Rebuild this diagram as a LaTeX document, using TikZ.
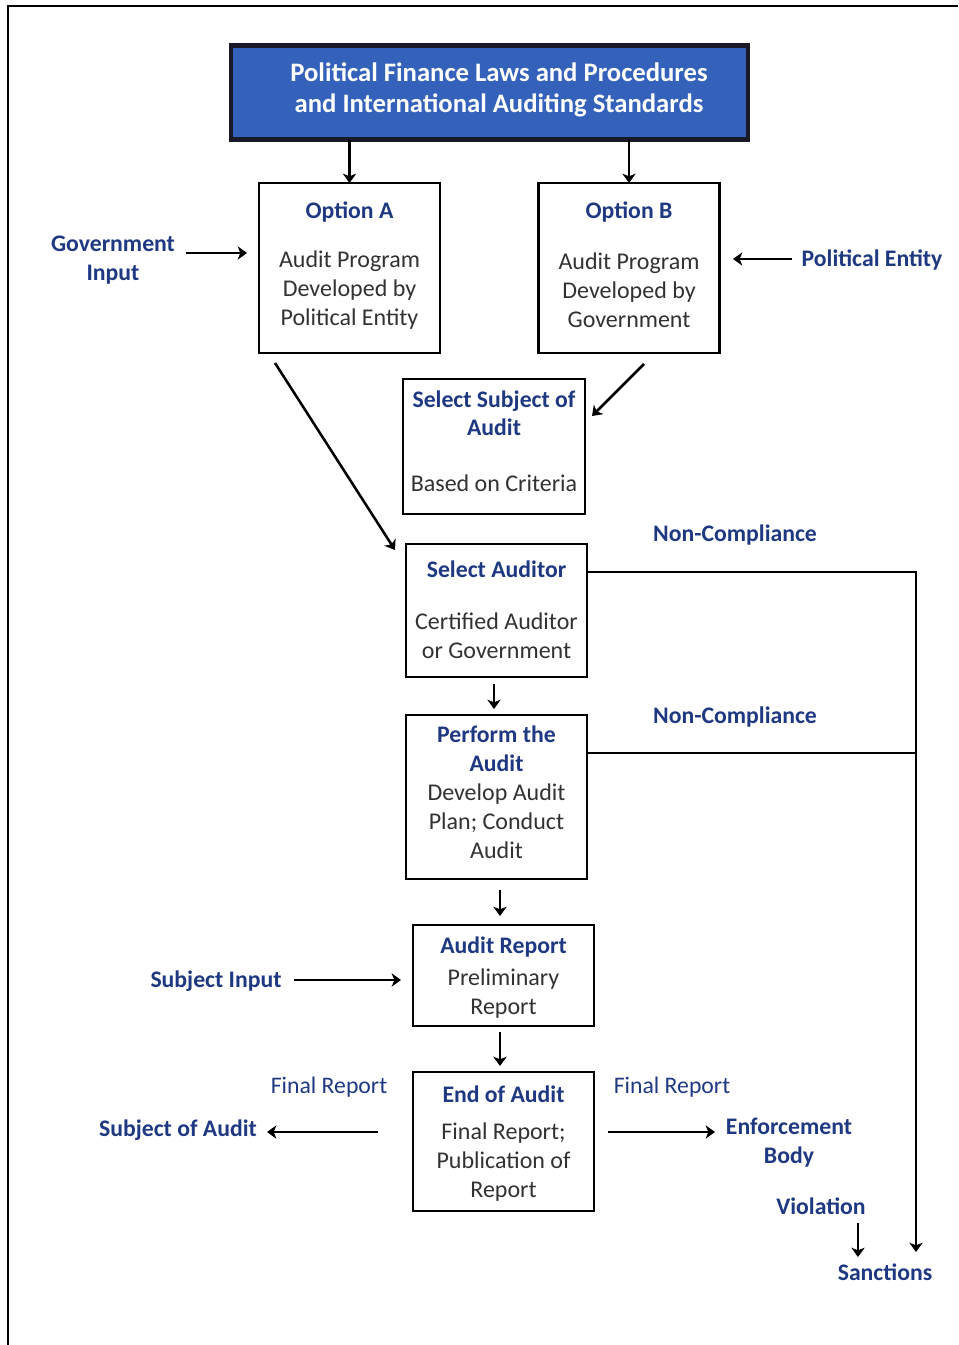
\documentclass[tikz,border=0pt]{standalone}
\usepackage{fontspec}
\setmainfont{Carlito}
\usetikzlibrary{arrows.meta}
\definecolor{navy}{RGB}{31,56,130}
\definecolor{bodygray}{RGB}{50,50,50}
\definecolor{hdrblue}{RGB}{52,98,186}
\definecolor{hdrline}{RGB}{25,25,40}
\tikzset{
  every node/.style={inner sep=0pt, outer sep=0pt},
  box/.style={draw=black, line width=2.2pt, fill=white},
  hdrbox/.style={draw=hdrline, line width=3.6pt, fill=hdrblue},
  ttl/.style={anchor=base, text=navy, font=\fontsize{17.8}{21}\selectfont\bfseries},
  bodytxt/.style={anchor=base, text=bodygray, font=\fontsize{18}{21}\selectfont},
  lab/.style={anchor=base, text=navy, font=\fontsize{17.8}{21}\selectfont\bfseries},
  labreg/.style={anchor=base, text=navy, font=\fontsize{17.8}{21}\selectfont},
  hdrtxt/.style={anchor=base, text=white, font=\fontsize{20}{24}\selectfont\bfseries},
  arr/.style={line width=1.9pt, -{Stealth[length=7pt,width=10pt,inset=2pt]}},
  conn/.style={line width=1.9pt},
  frame/.style={line width=2pt}
}
\begin{document}
\begin{tikzpicture}[x=0.75pt,y=-0.75pt]
\useasboundingbox (0,0) rectangle (958,1345);
\draw[frame] (958,6) -- (8,6) -- (8,1345);

% header
\node[hdrbox, minimum width=517*0.75pt, minimum height=94*0.75pt] (hdr) at (489.5,92.5) {};
\node[hdrtxt] (hdrA) at (499,82) {Political Finance Laws and Procedures};
\node[hdrtxt] (hdrB) at (499,113) {and International Auditing Standards};

% option A
\node[box, minimum width=181*0.75pt, minimum height=170*0.75pt] (optA) at (349.5,268) {};
\node[ttl] (optAt) at (349.5,218) {Option A};
\node[bodytxt] (optA1) at (349.5,267) {Audit Program};
\node[bodytxt] (optA2) at (349.5,296) {Developed by};
\node[bodytxt] (optA3) at (349.5,325) {Political Entity};

% option B
\node[box, minimum width=181*0.75pt, minimum height=170*0.75pt] (optB) at (629,268) {};
\node[ttl] (optBt) at (629,218) {Option B};
\node[bodytxt] (optB1) at (629,269) {Audit Program};
\node[bodytxt] (optB2) at (629,298) {Developed by};
\node[bodytxt] (optB3) at (629,327) {Government};

% side labels top
\node[lab] (gov1) at (113,251) {Government};
\node[lab] (gov2) at (113,280) {Input};
\node[lab] (pol) at (872,266) {Political Entity};

% select subject
\node[box, minimum width=182*0.75pt, minimum height=135*0.75pt] (sel) at (494,446.5) {};
\node[ttl] (selt1) at (494,407) {Select Subject of};
\node[ttl] (selt2) at (494,435) {Audit};
\node[bodytxt] (sel1) at (494,491) {Based on Criteria};

% select auditor
\node[box, minimum width=181*0.75pt, minimum height=133*0.75pt] (aud) at (496.5,610.5) {};
\node[ttl] (audt) at (496.5,577) {Select Auditor};
\node[bodytxt] (aud1) at (496.5,629) {Certified Auditor};
\node[bodytxt] (aud2) at (496.5,658) {or Government};

\node[lab] (nc1) at (735,541) {Non-Compliance};
\node[lab] (nc2) at (735,723) {Non-Compliance};

% perform
\node[box, minimum width=181*0.75pt, minimum height=164*0.75pt] (perf) at (496.5,797) {};
\node[ttl] (perft1) at (496.5,742) {Perform the};
\node[ttl] (perft2) at (496.5,771) {Audit};
\node[bodytxt] (perf1) at (496.5,800) {Develop Audit};
\node[bodytxt] (perf2) at (496.5,829) {Plan; Conduct};
\node[bodytxt] (perf3) at (496.5,858) {Audit};

% audit report
\node[box, minimum width=181*0.75pt, minimum height=101*0.75pt] (rep) at (503.5,975.5) {};
\node[ttl] (rept) at (503.5,953) {Audit Report};
\node[bodytxt] (rep1) at (503.5,985) {Preliminary};
\node[bodytxt] (rep2) at (503.5,1014) {Report};
\node[lab] (subin) at (216,987) {Subject Input};

% end of audit
\node[box, minimum width=181*0.75pt, minimum height=139*0.75pt] (fin) at (503.5,1141.5) {};
\node[ttl] (fint) at (503.5,1102) {End of Audit};
\node[bodytxt] (fin1) at (503.5,1139) {Final Report;};
\node[bodytxt] (fin2) at (503.5,1168) {Publication of};
\node[bodytxt] (fin3) at (503.5,1197) {Report};

\node[labreg] (frL) at (329,1093) {Final Report};
\node[labreg] (frR) at (672,1093) {Final Report};
\node[lab] (soa) at (178,1136) {Subject of Audit};
\node[lab] (enf1) at (789,1134) {Enforcement};
\node[lab] (enf2) at (789,1163) {Body};
\node[lab] (vio) at (821,1214) {Violation};
\node[lab] (sanc) at (885,1280) {Sanctions};

% connector end points
\coordinate (govS) at (186,253);
\coordinate (govE) at (247,253);
\coordinate (polS) at (792,259);
\coordinate (polE) at (733,259);
\coordinate (bS) at (644,364);
\coordinate (bE) at (592,416);
\coordinate (aS) at (275,363);
\coordinate (aE) at (395,550);
\coordinate (a1S) at (494,684);
\coordinate (a1E) at (494,709);
\coordinate (a2S) at (500,890);
\coordinate (a2E) at (500,916);
\coordinate (siS) at (294,980);
\coordinate (siE) at (401,980);
\coordinate (a3S) at (500,1032);
\coordinate (a3E) at (500,1066);
\coordinate (flS) at (378,1132);
\coordinate (flE) at (267,1132);
\coordinate (frS) at (608,1132);
\coordinate (frE) at (715,1132);
\coordinate (vS) at (858,1223);
\coordinate (vE) at (858,1257);
\coordinate (r1) at (916,572);
\coordinate (r2) at (916,753);
\coordinate (rE) at (916,1252);

\draw[arr] (optA.north |- hdr.south) -- (optA.north);
\draw[arr] (optB.north |- hdr.south) -- (optB.north);
\draw[arr] (govS) -- (govE);
\draw[arr] (polS) -- (polE);
\draw[arr] (bS) -- (bE);
\draw[arr] (aS) -- (aE);
\draw[arr] (a1S) -- (a1E);
\draw[arr] (a2S) -- (a2E);
\draw[arr] (siS) -- (siE);
\draw[arr] (a3S) -- (a3E);
\draw[arr] (flS) -- (flE);
\draw[arr] (frS) -- (frE);
\draw[arr] (vS) -- (vE);
\draw[arr] (r1 -| aud.east) -- (r1) -- (rE);
\draw[conn] (r2 -| perf.east) -- (r2);
\end{tikzpicture}
\end{document}
